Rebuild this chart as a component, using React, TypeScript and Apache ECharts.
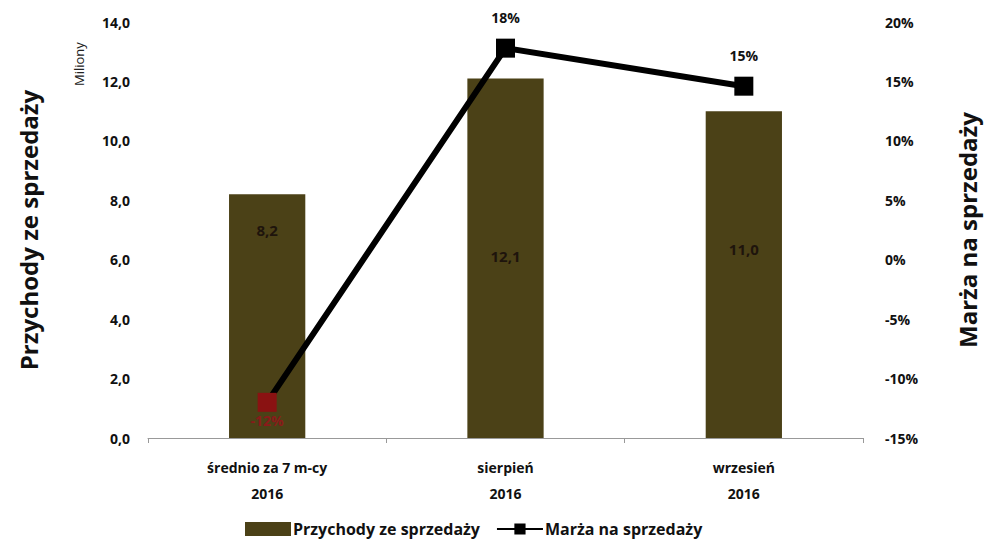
import React, { useEffect, useRef } from "react";
import * as echarts from "echarts";

const categories = ["średnio za 7 m-cy\n2016", "sierpień\n2016", "wrzesień\n2016"];
const revenue = [8.2, 12.1, 11.0];
const margin = [-12.0, 17.8, 14.6];
const leftTicks = { min: 0, max: 14, interval: 2 };
const rightTicks = { min: -15, max: 20, interval: 5 };

const FONT = "'Open Sans', 'DejaVu Sans', sans-serif";
const BAR = "#4b4117";

export default function App() {
  const ref = useRef<HTMLDivElement>(null);
  useEffect(() => {
    if (!ref.current) return;
    const chart = echarts.init(ref.current, null, { renderer: "svg" });
    const barLabelOffsets = [28, 170, 130];
    chart.setOption({
      animation: false,
      backgroundColor: "#ffffff",
      textStyle: { fontFamily: FONT },
      grid: { left: 148, right: 113, top: 22, bottom: 109 },
      legend: {
        bottom: 5,
        left: 240,
        itemWidth: 46,
        itemHeight: 14,
        itemGap: 16,
        textStyle: { fontFamily: FONT, fontWeight: "bold", fontSize: 16, color: "#111", padding: [0, 0, 0, -3] },
        data: [
          { name: "Przychody ze sprzedaży", icon: "rect" },
          { name: "Marża na sprzedaży" },
        ],
      },
      xAxis: {
        type: "category",
        data: categories,
        axisLine: { lineStyle: { color: "#999", width: 1 } },
        axisTick: { show: true, length: 5, lineStyle: { color: "#999" } },
        axisLabel: {
          fontFamily: FONT,
          fontWeight: "bold",
          fontSize: 14,
          color: "#111",
          lineHeight: 26,
          margin: 16,
        },
      },
      yAxis: [
        {
          type: "value",
          ...leftTicks,
          splitLine: { show: false },
          axisLine: { show: false },
          axisTick: { show: false },
          axisLabel: {
            fontFamily: FONT,
            fontWeight: "bold",
            fontSize: 14,
            color: "#111",
            margin: 18,
            formatter: (v: number) => v.toFixed(1).replace(".", ","),
          },
          name: "Przychody ze sprzedaży",
          nameLocation: "middle",
          nameGap: 108,
          nameRotate: 90,
          nameTextStyle: { fontFamily: FONT, fontWeight: "bold", fontSize: 24, color: "#111" },
        },
        {
          type: "value",
          ...rightTicks,
          splitLine: { show: false },
          axisLine: { show: false },
          axisTick: { show: false },
          axisLabel: {
            fontFamily: FONT,
            fontWeight: "bold",
            fontSize: 14,
            color: "#111",
            margin: 22,
            formatter: (v: number) => v + "%",
          },
          name: "Marża na sprzedaży",
          nameLocation: "middle",
          nameGap: 92,
          nameRotate: 90,
          nameTextStyle: { fontFamily: FONT, fontWeight: "bold", fontSize: 24, color: "#111" },
        },
      ],
      graphic: [
        {
          type: "text",
          x: 72,
          y: 86,
          rotation: Math.PI / 2,
          style: { text: "Miliony", font: `13px ${FONT}`, fill: "#222" },
        },
      ],
      series: [
        {
          name: "Przychody ze sprzedaży",
          type: "bar",
          yAxisIndex: 0,
          barWidth: "32%",
          itemStyle: { color: BAR },
          data: revenue.map((v, i) => ({
            value: v,
            label: {
              show: true,
              position: "insideTop",
              distance: barLabelOffsets[i],
              formatter: (p: any) => p.value.toFixed(1).replace(".", ","),
              fontFamily: FONT,
              fontWeight: "bold",
              fontSize: 15,
              color: "#1e140c",
            },
          })),
        },
        {
          name: "Marża na sprzedaży",
          type: "line",
          yAxisIndex: 1,
          symbol: "rect",
          symbolSize: 19,
          lineStyle: { color: "#000", width: 6 },
          itemStyle: { color: "#000" },
          data: margin.map((v, i) => ({
            value: v,
            itemStyle: i === 0 ? { color: "#8a1212" } : undefined,
            label: {
              show: true,
              position: i === 0 ? "bottom" : "top",
              distance: i === 0 ? 2 : 14,
              formatter: (p: any) => Math.round(p.value) + "%",
              fontFamily: FONT,
              fontWeight: "bold",
              fontSize: 14,
              color: i === 0 ? "#8a1a1a" : "#111",
            },
          })),
        },
      ],
    });
    return () => chart.dispose();
  }, []);
  return <div ref={ref} style={{ width: 987, height: 547, position: "fixed", left: 0, top: 0 }} />;
}
